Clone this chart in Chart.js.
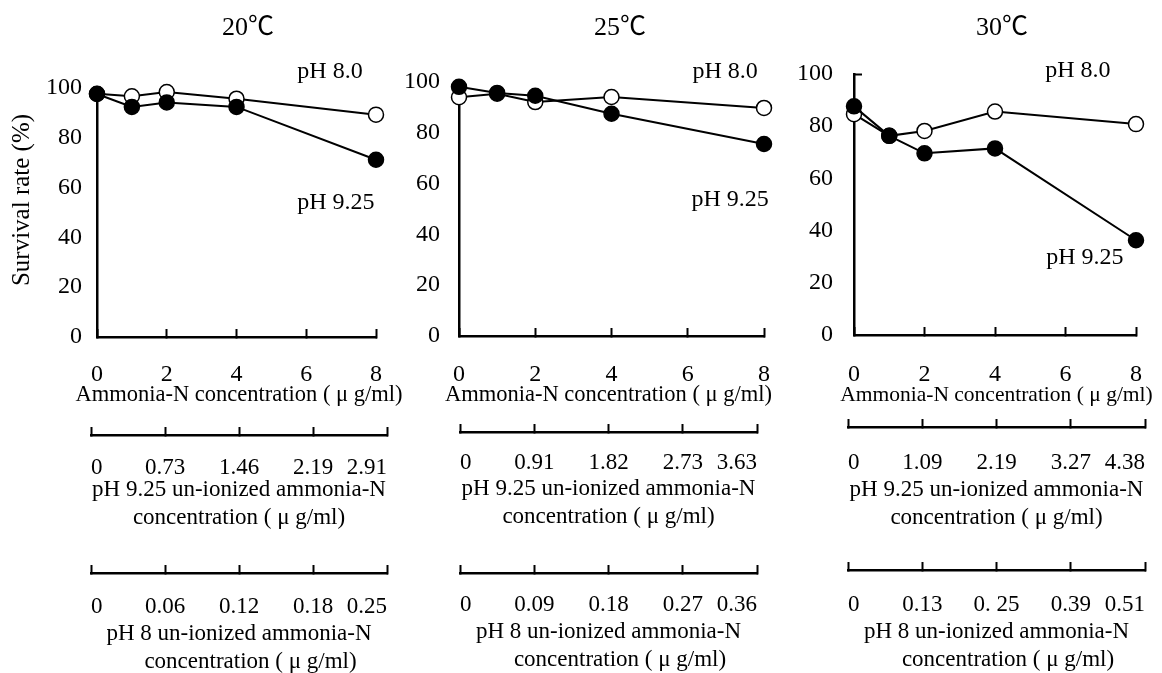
<!DOCTYPE html>
<html>
<head>
<meta charset="utf-8">
<script src="https://cdn.jsdelivr.net/npm/chart.js@4.4.1/dist/chart.umd.min.js"></script>
<style>
  html, body { margin: 0; padding: 0; background: #fff; overflow: hidden; width: 1162px; height: 673px; }
  canvas { position: absolute; }
</style>
</head>
<body>
<canvas id="main0"></canvas>
<canvas id="main1"></canvas>
<canvas id="main2"></canvas>
<canvas id="sec0"></canvas>
<canvas id="sec1"></canvas>
<canvas id="sec2"></canvas>
<script>
// ammonia-N concentration (ug/ml) tested
const conc = [0, 1, 2, 4, 8];
const temps = ['20℃', '25℃', '30℃'];

// survival rate (%)
const ph8_20 = [97.7, 96.7, 98.4, 95.7, 89.3];
const ph925_20 = [97.6, 92.4, 94.2, 92.4, 71.2];
const ph8_25 = [94.0, 95.4, 92.1, 94.1, 89.8];
const ph925_25 = [98.1, 95.7, 94.6, 87.5, 75.6];
const ph8_30 = [84.6, 76.3, 78.2, 85.6, 80.8];
const ph925_30 = [87.6, 76.3, 69.6, 71.5, 36.3];

// un-ionized ammonia-N tick labels
const un925_20 = ['0', '0.73', '1.46', '2.19', '2.91'];
const un8_20 = ['0', '0.06', '0.12', '0.18', '0.25'];
const un925_25 = ['0', '0.91', '1.82', '2.73', '3.63'];
const un8_25 = ['0', '0.09', '0.18', '0.27', '0.36'];
const un925_30 = ['0', '1.09', '2.19', '3.27', '4.38'];
const un8_30 = ['0', '0.13', '0. 25', '0.39', '0.51'];

// where the pH labels sit, in data units
const notes20 = [{ text: 'pH 8.0', x: 6.68, y: 106.6 }, { text: 'pH 9.25', x: 6.85, y: 53.8 }];
const notes25 = [{ text: 'pH 8.0', x: 6.98, y: 104.1 }, { text: 'pH 9.25', x: 7.11, y: 53.6 }];
const notes30 = [{ text: 'pH 8.0', x: 6.35, y: 101.2 }, { text: 'pH 9.25', x: 6.55, y: 29.6 }];

const SERIF = '"Liberation Serif", "Times New Roman", "Noto Sans CJK JP", serif';
const MAIN_H = 395;
const SEC_TOP = 378;
const TICK = 24;   // main tick labels
const SUB = 23;    // secondary axis labels and titles

const panels = [
  { temp: temps[0], ph8: ph8_20, ph925: ph925_20, mid: un925_20, low: un8_20, notes: notes20, yTitle: '    Survival rate (%)',
    g: { left: 0, w: 496, l: 97, r: 376, t: 88, b: 337, yPad: 15, yTick: false, a0: 91, a1: 387,
         lineA: 435, lineB: 573, labA: 468, labB: 607, tA2: 518, tB2: 662, xTitle: 22.5 } },
  { temp: temps[1], ph8: ph8_25, ph925: ph925_25, mid: un925_25, low: un8_25, notes: notes25, yTitle: null,
    g: { left: 400, w: 440, l: 459, r: 764, t: 82, b: 336, yPad: 19, yTick: false, a0: 460, a1: 757,
         lineA: 432, lineB: 573, labA: 463, labB: 605, tA2: 517, tB2: 660, xTitle: 22.5 } },
  { temp: temps[2], ph8: ph8_30, ph925: ph925_30, mid: un925_30, low: un8_30, notes: notes30, yTitle: null,
    g: { left: 790, w: 424, l: 854, r: 1136, t: 74, b: 335, yPad: 21, yTick: true, a0: 848, a1: 1145,
         lineA: 427, lineB: 570, labA: 463, labB: 605, tA2: 518, tB2: 660, xTitle: 21.5 } },
];

const font = (size) => ({ family: SERIF, size: size, weight: 'normal' });

// empty side axis that only reserves room
const spacer = (position, width) => ({
  position, min: 0, max: 1,
  ticks: { display: false }, grid: { display: false }, border: { display: false },
  afterFit: s => { s.width = width; }
});

function notesPlugin(items) {
  return {
    id: 'notes',
    afterDatasetsDraw(chart) {
      const { ctx, scales: { x, y } } = chart;
      ctx.save();
      ctx.font = `24px ${SERIF}`;
      ctx.fillStyle = '#000';
      ctx.textAlign = 'center';
      ctx.textBaseline = 'middle';
      items.forEach(n => ctx.fillText(n.text, x.getPixelForValue(n.x), y.getPixelForValue(n.y)));
      ctx.restore();
    }
  };
}

function mainChart(id, p) {
  const g = p.g;
  const cv = document.getElementById(id);
  cv.width = g.w; cv.height = MAIN_H;
  cv.style.left = g.left + 'px'; cv.style.top = '0px';

  const line = (label, values, fill) => ({
    label,
    data: conc.map((x, i) => ({ x, y: values[i] })),
    borderColor: '#000', borderWidth: 2,
    pointRadius: 7.5, pointBorderWidth: 1.5,
    pointBackgroundColor: fill, pointBorderColor: '#000',
    clip: false,
  });

  const yTl = g.yTick ? -8 : 0;

  return new Chart(cv, {
    type: 'line',
    data: { datasets: [line('pH 9.25', p.ph925, '#000'), line('pH 8.0', p.ph8, '#fff')] },
    options: {
      responsive: false, animation: false, devicePixelRatio: 1,
      layout: { padding: 0 },
      plugins: {
        legend: { display: false }, tooltip: { enabled: false },
        title: {
          display: true, text: p.temp, color: '#000', font: font(26),
          padding: { top: 12.4, bottom: g.t - 12.4 - 26 * 1.2 }
        }
      },
      scales: {
        x: {
          type: 'linear', min: 0, max: 8,
          ticks: { stepSize: 2, color: '#000', font: font(TICK), maxRotation: 0, autoSkip: false,
                   padding: 375 - g.b + 8 - TICK * 0.6 },
          grid: { drawOnChartArea: false, tickLength: -8, tickWidth: 2, tickColor: '#000' },
          border: { color: '#000', width: 2.5 },
          afterFit: s => { s.height = MAIN_H - g.b; }
        },
        y: {
          min: 0, max: 100,
          ticks: { stepSize: 20, color: '#000', font: font(TICK), padding: g.yPad - yTl },
          grid: { drawOnChartArea: false, drawTicks: g.yTick, tickLength: yTl, tickWidth: 2,
                  tickColor: c => (c.tick && c.tick.value === 100 ? '#000' : 'rgba(0,0,0,0)') },
          border: { color: '#000', width: 2.5 },
          title: { display: !!p.yTitle, text: p.yTitle || '', color: '#000', font: font(25),
                   padding: { top: 22 - 15, bottom: 0 } },
          afterFit: s => { s.width = g.l - g.left; }
        },
        yR: spacer('right', g.left + g.w - g.r)
      }
    },
    plugins: [notesPlugin(p.notes)]
  });
}

function axisChart(id, p) {
  const g = p.g;
  const cv = document.getElementById(id);
  const H = 673 - SEC_TOP;
  cv.width = g.a1 - g.a0 + 80; cv.height = H;
  cv.style.left = (g.a0 - 40) + 'px'; cv.style.top = SEC_TOP + 'px';

  const lh = 28;
  const sub = (labels, title, labelY, lineY, bottomY, t2, h) => ({
    type: 'category', labels, offset: false, position: 'bottom',
    ticks: { color: '#000', font: font(SUB), align: 'inner', maxRotation: 0, autoSkip: false,
             padding: labelY - lineY + 8 - SUB * 0.6 },
    grid: { drawOnChartArea: false, tickLength: -8, tickWidth: 2, tickColor: '#000' },
    border: { color: '#000', width: 2.5 },
    title: { display: true, text: title, color: '#000',
             font: { family: SERIF, size: SUB, weight: 'normal', lineHeight: lh / SUB },
             padding: { top: 0, bottom: bottomY - t2 - lh / 2 } },
    afterFit: s => { s.height = h; }
  });

  return new Chart(cv, {
    type: 'line',
    data: { datasets: [] },
    options: {
      responsive: false, animation: false, devicePixelRatio: 1,
      layout: { padding: 0 },
      plugins: {
        legend: { display: false }, tooltip: { enabled: false },
        title: {
          display: true, text: 'Ammonia-N concentration ( μ g/ml)', color: '#000', font: font(g.xTitle),
          padding: { top: 395 - SEC_TOP - g.xTitle * 0.6, bottom: 0 }
        }
      },
      scales: {
        y: { display: false },
        yL: spacer('left', 40),
        yR: spacer('right', 40),
        x: sub(p.mid, ['pH 9.25 un-ionized ammonia-N', 'concentration ( μ g/ml)'],
               g.labA, g.lineA, g.lineB, g.tA2, g.lineB - g.lineA),
        x2: sub(p.low, ['pH 8 un-ionized ammonia-N', '    concentration ( μ g/ml)'],
                g.labB, g.lineB, 673, g.tB2, 673 - g.lineB)
      }
    }
  });
}

panels.forEach((p, i) => {
  mainChart('main' + i, p);
  axisChart('sec' + i, p);
});
</script>
</body>
</html>
